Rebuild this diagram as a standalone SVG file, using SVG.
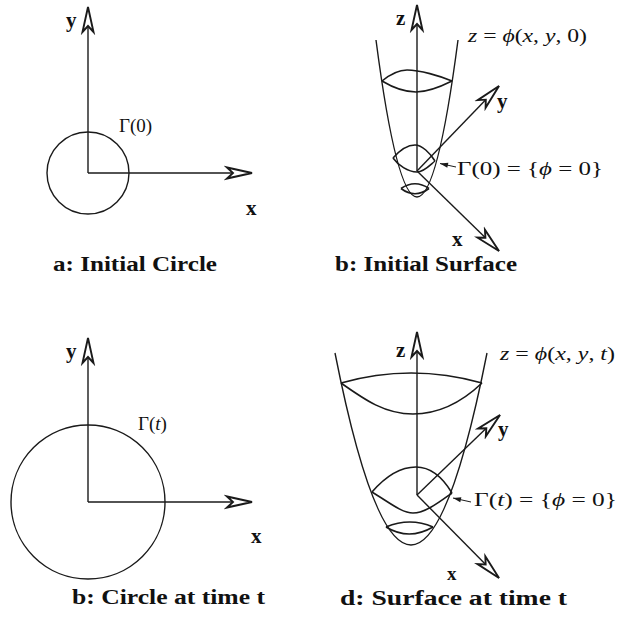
<svg xmlns="http://www.w3.org/2000/svg" width="618" height="617" viewBox="0 0 618 617">
<style>
.ln{fill:none;stroke:#1a1a1a;stroke-width:1.4}
.cv{fill:none;stroke:#1a1a1a;stroke-width:1.6}
.ax{fill:none;stroke:#1a1a1a;stroke-width:1.4;marker-end:url(#big)}
.pt{fill:none;stroke:#1a1a1a;stroke-width:1;marker-end:url(#small)}
.lab{font-family:"Liberation Serif","DejaVu Serif",serif;font-weight:bold;font-size:21px;fill:#111}
.cap{font-family:"Liberation Serif","DejaVu Serif",serif;font-weight:bold;font-size:20px;fill:#111}
.m{font-family:"Liberation Serif","DejaVu Serif",serif;font-size:19px;fill:#111}
.i{font-style:italic}
</style>
<defs>
<marker id="big" viewBox="-28 -8 30 16" refX="0" refY="0" markerWidth="30" markerHeight="16" markerUnits="userSpaceOnUse" orient="auto">
<path d="M0,0 L-25,-5.5 L-19,0 L-25,5.5 Z" fill="#fff" stroke="#1a1a1a" stroke-width="1.9" stroke-linejoin="miter"/>
</marker>
<marker id="small" viewBox="-9 -4 10 8" refX="0" refY="0" markerWidth="10" markerHeight="8" markerUnits="userSpaceOnUse" orient="auto">
<path d="M0,0 L-8,-2.5 L-8,2.5 Z" fill="#1a1a1a"/>
</marker>
</defs>
<rect width="618" height="617" fill="#fff"/>

<g id="panel-a">
<circle class="ln" cx="88" cy="173" r="41"/>
<text class="lab" x="66" y="27">y</text>
<text class="lab" x="246" y="215">x</text>
<text class="m" x="119" y="132">Γ(0)</text>
<text class="cap" x="53" y="271" textLength="164" lengthAdjust="spacingAndGlyphs">a: Initial Circle</text>
</g>

<g id="panel-b">
<path class="ln" d="M376,40 Q417,354 458,40"/>
<path class="cv" d="M382,81 C393,72 400,70 407,70 C420,70 440,76 452,81"/>
<path class="cv" d="M382,81 C392,87 405,92 416,92 C428,92 442,86 452,81"/>
<path class="cv" d="M393,158 C400,150 408,145 415,145 C422,145 430,153 435,161"/>
<path class="cv" d="M393,158 C398,165 408,172 417,172 C424,172 430,165 435,161"/>
<path class="cv" d="M401,188.5 Q415,179 429,188.5"/>
<path class="cv" d="M401,188.5 Q415,199 429,188.5"/>
<text class="lab" x="396" y="25">z</text>
<text class="lab" x="497" y="108">y</text>
<text class="lab" x="452" y="246">x</text>
<text class="m" x="468" y="42" textLength="119" lengthAdjust="spacingAndGlyphs"><tspan class="i">z</tspan> = <tspan class="i">ϕ</tspan>(<tspan class="i">x</tspan>, <tspan class="i">y</tspan>, 0)</text>
<text class="m" x="457" y="175" textLength="146" lengthAdjust="spacingAndGlyphs">Γ(0) = {<tspan class="i">ϕ</tspan> = 0}</text>
<text class="cap" x="335" y="271" textLength="182" lengthAdjust="spacingAndGlyphs">b: Initial Surface</text>
</g>

<g id="panel-c">
<circle class="ln" cx="88" cy="502" r="77"/>
<text class="lab" x="66" y="358">y</text>
<text class="lab" x="251" y="543">x</text>
<text class="m" x="138" y="430">Γ(<tspan class="i">t</tspan>)</text>
<text class="cap" x="72" y="604" textLength="193" lengthAdjust="spacingAndGlyphs">b: Circle at time t</text>
</g>

<g id="panel-d">
<path class="ln" d="M335,353 Q411,737 487,353"/>
<path class="cv" d="M341,383 Q411,363 482,383"/>
<path class="cv" d="M341,383 C365,400 385,414 413,414 C440,414 462,402 482,383"/>
<path class="cv" d="M372,492 C385,477 400,467 416,467 C432,467 443,478 452,493"/>
<path class="cv" d="M372,492 C390,503 402,513 413,513 C425,513 438,503 452,493"/>
<path class="cv" d="M386,527 Q410,517 433,527"/>
<path class="cv" d="M386,527 Q409,541 433,527"/>
<text class="lab" x="396" y="357">z</text>
<text class="lab" x="498" y="436">y</text>
<text class="lab" x="447" y="580" style="font-size:19px">x</text>
<text class="m" x="500" y="360" textLength="115" lengthAdjust="spacingAndGlyphs"><tspan class="i">z</tspan> = <tspan class="i">ϕ</tspan>(<tspan class="i">x</tspan>, <tspan class="i">y</tspan>, <tspan class="i">t</tspan>)</text>
<text class="m" x="474" y="506" textLength="143" lengthAdjust="spacingAndGlyphs">Γ(<tspan class="i">t</tspan>) = {<tspan class="i">ϕ</tspan> = 0}</text>
<text class="cap" x="340" y="605" textLength="227" lengthAdjust="spacingAndGlyphs">d: Surface at time t</text>
</g>

<g id="connectors">
<line class="ax" x1="88" y1="173" x2="88" y2="7"/>
<line class="ax" x1="88" y1="173" x2="252" y2="173"/>
<line class="ax" x1="417" y1="171" x2="417" y2="5"/>
<line class="ax" x1="417" y1="171" x2="499" y2="86"/>
<line class="ax" x1="417" y1="171" x2="499" y2="251"/>
<line class="pt" x1="456" y1="167" x2="440" y2="163.5"/>
<line class="ax" x1="88" y1="502" x2="88" y2="338"/>
<line class="ax" x1="88" y1="502" x2="252" y2="502"/>
<line class="ax" x1="417" y1="495" x2="417" y2="332"/>
<line class="ax" x1="417" y1="495" x2="500" y2="415"/>
<line class="ax" x1="417" y1="495" x2="499" y2="578"/>
<line class="pt" x1="471" y1="502" x2="453" y2="498"/>
</g>
</svg>
